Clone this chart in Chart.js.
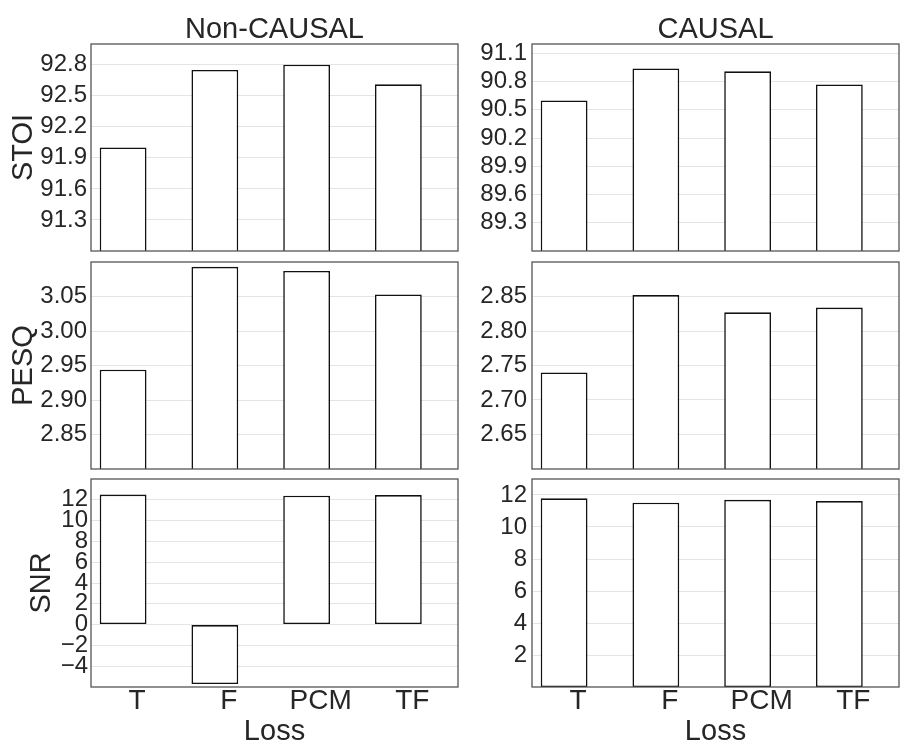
<!DOCTYPE html>
<html>
<head>
<meta charset="utf-8">
<script src="https://cdn.jsdelivr.net/npm/chart.js@4.4.1/dist/chart.umd.min.js"></script>
<style>
html, body { margin: 0; padding: 0; background: #ffffff; }
#wrap { position: relative; width: 910px; height: 748px; overflow: hidden; background: #ffffff; }
#wrap canvas { position: absolute; }
</style>
</head>
<body>
<div id="wrap">
  <canvas id="stoiNC" width="460" height="256" style="left:0px;top:0px"></canvas>
  <canvas id="stoiC" width="450" height="256" style="left:460px;top:0px"></canvas>
  <canvas id="pesqNC" width="460" height="216" style="left:0px;top:256px"></canvas>
  <canvas id="pesqC" width="450" height="216" style="left:460px;top:256px"></canvas>
  <canvas id="snrNC" width="460" height="276" style="left:0px;top:472px"></canvas>
  <canvas id="snrC" width="450" height="276" style="left:460px;top:472px"></canvas>
</div>
<script>
// ---------------- data ----------------
const categories = ['T', 'F', 'PCM', 'TF'];

const stoiNonCausal = [92.00, 92.75, 92.80, 92.61];
const stoiCausal    = [90.60, 90.94, 90.91, 90.77];
const pesqNonCausal = [2.944, 3.093, 3.087, 3.053];
const pesqCausal    = [2.740, 2.852, 2.827, 2.834];
const snrNonCausal  = [12.50, -5.72, 12.39, 12.45];
const snrCausal     = [11.79, 11.52, 11.70, 11.62];

const stoiNonCausalTicks = [91.3, 91.6, 91.9, 92.2, 92.5, 92.8];
const stoiCausalTicks    = [89.3, 89.6, 89.9, 90.2, 90.5, 90.8, 91.1];
const pesqNonCausalTicks = [2.85, 2.90, 2.95, 3.00, 3.05];
const pesqCausalTicks    = [2.65, 2.70, 2.75, 2.80, 2.85];
const snrNonCausalTicks  = [-4, -2, 0, 2, 4, 6, 8, 10, 12];
const snrCausalTicks     = [2, 4, 6, 8, 10, 12];

const columnTitles = ['Non-CAUSAL', 'CAUSAL'];
const rowTitles = ['STOI', 'PESQ', 'SNR'];
const xTitle = 'Loss';

// ---------------- style ----------------
const FONT = '"Liberation Sans", Arial, Helvetica, sans-serif';
const TEXT = '#262626';

const panelBox = {
  id: 'panelBox',
  afterDatasetsDraw(chart) {
    const { ctx, chartArea: a } = chart;
    ctx.save();
    ctx.strokeStyle = '#555555';
    ctx.lineWidth = 1.3;
    ctx.strokeRect(a.left, a.top, a.right - a.left, a.bottom - a.top);
    ctx.restore();
  }
};

function zeroPad(s) {
  s.paddingLeft = 0; s.paddingRight = 0; s.paddingTop = 0; s.paddingBottom = 0;
}

function fmt(v, dec) {
  return v.toFixed(dec).replace('-', '\u2212');
}

function panel(id, values, yMin, yMax, yTicks, dec, cfg) {
  const scales = {
    x: {
      type: 'linear',
      min: -0.35,
      max: 3.65,
      offset: false,
      display: cfg.showX,
      grid: { display: false, offset: false, drawTicks: false },
      border: { display: false },
      afterBuildTicks: (s) => { s.ticks = categories.map((c, i) => ({ value: i })); },
      afterFit: (s) => { s.height = cfg.showX ? cfg.xHeight : 0; zeroPad(s); },
      ticks: {
        callback: (v) => categories[v],
        labelOffset: 14,
        padding: 0,
        maxRotation: 0,
        minRotation: 0,
        autoSkip: false,
        color: TEXT,
        font: { family: FONT, size: 28, lineHeight: 1 }
      },
      title: {
        display: cfg.showX,
        text: xTitle,
        color: TEXT,
        font: { family: FONT, size: 29, lineHeight: 1 },
        padding: { top: 0, bottom: 2 }
      }
    },
    y: {
      min: yMin,
      max: yMax,
      grid: { color: '#e4e4e4', lineWidth: 1, drawTicks: false },
      border: { display: false },
      afterBuildTicks: (s) => { s.ticks = yTicks.map(v => ({ value: v })); },
      afterFit: (s) => { s.width = cfg.yWidth; zeroPad(s); },
      ticks: {
        callback: (v) => fmt(v, dec),
        padding: cfg.tickPad,
        autoSkip: false,
        color: TEXT,
        font: { family: FONT, size: 24, lineHeight: 1 }
      },
      title: {
        display: !!cfg.yTitle,
        text: cfg.yTitle || '',
        color: TEXT,
        font: { family: FONT, size: 29, lineHeight: 1 },
        padding: { top: cfg.yTitlePad || 0, bottom: 0 }
      }
    }
  };
  if (cfg.colTitle) {
    scales.xTop = {
      type: 'linear',
      axis: 'x',
      position: 'top',
      min: -0.35,
      max: 3.65,
      grid: { display: false, drawTicks: false },
      border: { display: false },
      ticks: { display: false },
      afterFit: (s) => { s.height = 44; zeroPad(s); },
      title: {
        display: true,
        text: cfg.colTitle,
        color: TEXT,
        font: { family: FONT, size: 29, lineHeight: 1 },
        padding: { top: 15, bottom: 0 }
      }
    };
  }
  new Chart(document.getElementById(id), {
    type: 'bar',
    data: {
      datasets: [{
        data: values.map((v, i) => ({ x: i, y: v })),
        backgroundColor: '#ffffff',
        borderColor: '#111111',
        borderWidth: 1.6,
        borderSkipped: false,
        barPercentage: 0.51,
        categoryPercentage: 1,
        clip: 0,
        xAxisID: 'x',
        yAxisID: 'y'
      }]
    },
    options: {
      responsive: false,
      animation: false,
      events: [],
      layout: { padding: { left: 0, right: cfg.padRight, top: cfg.padTop, bottom: cfg.padBottom } },
      plugins: { legend: { display: false }, tooltip: { enabled: false }, title: { display: false } },
      scales: scales
    },
    plugins: [panelBox]
  });
}

// left column: chart area x 91..458 ; right column: 532..899
panel('stoiNC', stoiNonCausal, 91.0, 93.0, stoiNonCausalTicks, 1,
  { yWidth: 91, padRight: 2, padTop: 0, padBottom: 5, showX: false, tickPad: 4, yTitle: rowTitles[0], yTitlePad: 9, colTitle: columnTitles[0] });
panel('stoiC', stoiCausal, 89.0, 91.2, stoiCausalTicks, 1,
  { yWidth: 72, padRight: 11, padTop: 0, padBottom: 5, showX: false, tickPad: 5, colTitle: columnTitles[1] });
panel('pesqNC', pesqNonCausal, 2.80, 3.10, pesqNonCausalTicks, 2,
  { yWidth: 91, padRight: 2, padTop: 6, padBottom: 3, showX: false, tickPad: 4, yTitle: rowTitles[1], yTitlePad: 9 });
panel('pesqC', pesqCausal, 2.60, 2.90, pesqCausalTicks, 2,
  { yWidth: 72, padRight: 11, padTop: 6, padBottom: 3, showX: false, tickPad: 5 });
panel('snrNC', snrNonCausal, -6, 14, snrNonCausalTicks, 0,
  { yWidth: 91, padRight: 2, padTop: 7, padBottom: 0, showX: true, xHeight: 61, tickPad: 3, yTitle: rowTitles[2], yTitlePad: 27 });
panel('snrC', snrCausal, 0, 13, snrCausalTicks, 0,
  { yWidth: 72, padRight: 11, padTop: 7, padBottom: 0, showX: true, xHeight: 61, tickPad: 5 });
</script>
</body>
</html>
